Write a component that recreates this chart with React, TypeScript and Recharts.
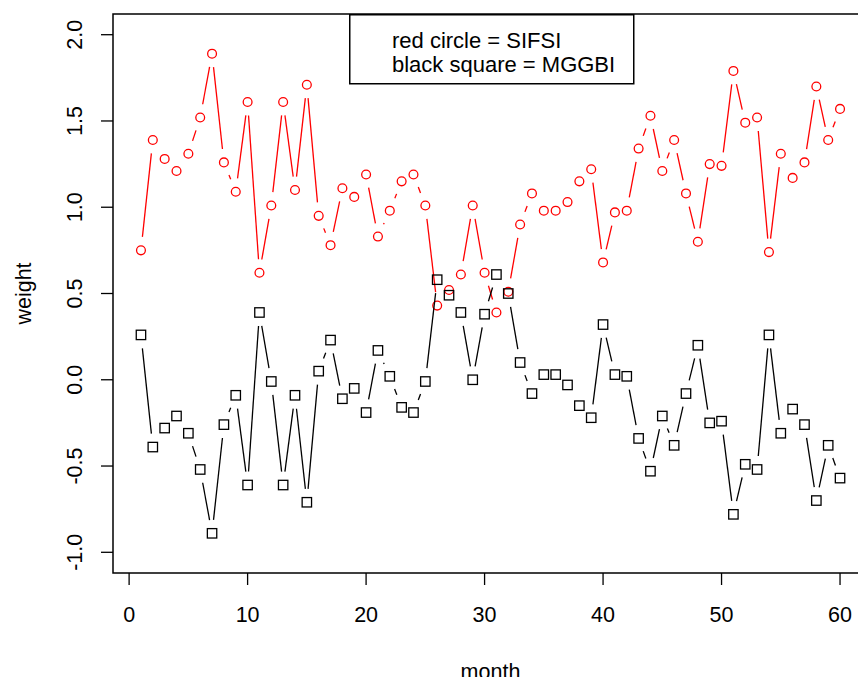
import React from 'react';
import { LineChart, Line, XAxis, YAxis, ReferenceArea, Legend } from 'recharts';

const months = [1,2,3,4,5,6,7,8,9,10,11,12,13,14,15,16,17,18,19,20,21,22,23,24,25,26,27,28,29,30,31,32,33,34,35,36,37,38,39,40,41,42,43,44,45,46,47,48,49,50,51,52,53,54,55,56,57,58,59,60];

const sifsi = [0.75,1.39,1.28,1.21,1.31,1.52,1.89,1.26,1.09,1.61,0.62,1.01,1.61,1.10,1.71,0.95,0.78,1.11,1.06,1.19,0.83,0.98,1.15,1.19,1.01,0.43,0.52,0.61,1.01,0.62,0.39,0.51,0.90,1.08,0.98,0.98,1.03,1.15,1.22,0.68,0.97,0.98,1.34,1.53,1.21,1.39,1.08,0.80,1.25,1.24,1.79,1.49,1.52,0.74,1.31,1.17,1.26,1.70,1.39,1.57];

const mggbi = [0.26,-0.39,-0.28,-0.21,-0.31,-0.52,-0.89,-0.26,-0.09,-0.61,0.39,-0.01,-0.61,-0.09,-0.71,0.05,0.23,-0.11,-0.05,-0.19,0.17,0.02,-0.16,-0.19,-0.01,0.58,0.49,0.39,0.00,0.38,0.61,0.50,0.10,-0.08,0.03,0.03,-0.03,-0.15,-0.22,0.32,0.03,0.02,-0.34,-0.53,-0.21,-0.38,-0.08,0.20,-0.25,-0.24,-0.78,-0.49,-0.52,0.26,-0.31,-0.17,-0.26,-0.70,-0.38,-0.57];

const xTicks = [0, 10, 20, 30, 40, 50, 60];
const yTicks = [-1, -0.5, 0, 0.5, 1, 1.5, 2];
const legendLines = ['red circle = SIFSI', 'black square = MGGBI'];

const data = months.map((m, i) => ({ month: m, sifsi: sifsi[i], mggbi: mggbi[i] }));

const FONT = '"Liberation Sans", Arial, sans-serif';
const GAP = 13.5;
const cache: Record<string, { x: number; y: number }[]> = {};

function makeDot(kind: 'circle' | 'square', color: string) {
  return (props: any) => {
    const { cx, cy, index, points } = props;
    const arr = (cache[kind] = cache[kind] || []);
    arr[index] = { x: cx, y: cy };
    const prev = points && points[index - 1] ? points[index - 1] : index > 0 ? arr[index - 1] : null;
    let seg: React.ReactNode = null;
    if (prev && prev.x != null && prev.y != null) {
      const dx = cx - prev.x;
      const dy = cy - prev.y;
      const d = Math.hypot(dx, dy);
      if (d > 2 * GAP) {
        const ux = dx / d;
        const uy = dy / d;
        seg = (
          <line
            x1={prev.x + ux * GAP}
            y1={prev.y + uy * GAP}
            x2={cx - ux * GAP}
            y2={cy - uy * GAP}
            stroke={color}
            strokeWidth={1.3}
          />
        );
      }
    }
    const marker =
      kind === 'circle' ? (
        <circle cx={cx} cy={cy} r={4.4} fill="none" stroke={color} strokeWidth={1.3} />
      ) : (
        <rect x={cx - 4.7} y={cy - 4.7} width={9.4} height={9.4} fill="none" stroke={color} strokeWidth={1.3} />
      );
    return (
      <g key={`${kind}-${index}`}>
        {seg}
        {marker}
      </g>
    );
  };
}

const YTick = (props: any) => {
  const { x, y, payload } = props;
  return (
    <text
      transform={`translate(${x},${y}) rotate(-90)`}
      textAnchor="middle"
      fontSize={21.5}
      fontFamily={FONT}
      fill="#000"
    >
      {Number(payload.value).toFixed(1)}
    </text>
  );
};

const XLabel = (props: any) => {
  const vb = props.viewBox || {};
  return (
    <text x={vb.x + vb.width / 2} y={vb.y + 106} textAnchor="middle" fontSize={21.5} fontFamily={FONT} fill="#000">
      month
    </text>
  );
};

const YLabel = (props: any) => {
  const vb = props.viewBox || {};
  const cy = vb.y + vb.height / 2;
  return (
    <text transform={`translate(31,${cy}) rotate(-90)`} textAnchor="middle" fontSize={21.5} fontFamily={FONT} fill="#000">
      weight
    </text>
  );
};

const LegendBox = () => (
  <svg width={286} height={71} style={{ display: 'block' }}>
    <rect x={0.75} y={0.75} width={284} height={69} fill="#fff" stroke="#000" strokeWidth={1.5} />
    {legendLines.map((t, i) => (
      <text key={t} x={43} y={34.3 + i * 23.4} fontSize={22} fontFamily={FONT} fill="#000">
        {t}
      </text>
    ))}
  </svg>
);

export default function App() {
  return (
    <>
      <style>{'html,body{margin:0;padding:0;overflow:hidden;}'}</style>
      <div style={{ width: 858, height: 677, overflow: 'hidden', position: 'relative' }}>
        <LineChart width={880} height={700} data={data} margin={{ top: 14, right: 12, bottom: 0, left: 0 }}>
          <XAxis
            dataKey="month"
            type="number"
            domain={[-1.36, 62.36]}
            ticks={xTicks}
            allowDataOverflow
            axisLine={false}
            tickLine={{ stroke: '#000', strokeWidth: 1.3 }}
            tickSize={12}
            tickMargin={22}
            height={127}
            tick={{ fontSize: 21.5, fontFamily: FONT, fill: '#000' }}
            label={<XLabel />}
          />
          <YAxis
            type="number"
            domain={[-1.12, 2.12]}
            ticks={yTicks}
            allowDataOverflow
            axisLine={false}
            tickLine={{ stroke: '#000', strokeWidth: 1.3 }}
            tickSize={12}
            tickMargin={19.3}
            width={113}
            tick={<YTick />}
            label={<YLabel />}
          />
          <ReferenceArea
            x1={-1.36}
            x2={62.36}
            y1={-1.12}
            y2={2.12}
            fill="none"
            stroke="#000"
            strokeWidth={1.5}
            fillOpacity={0}
            ifOverflow="visible"
          />
          <Line
            dataKey="sifsi"
            stroke="none"
            strokeWidth={0}
            dot={makeDot('circle', '#ff0000')}
            activeDot={false}
            isAnimationActive={false}
            legendType="none"
          />
          <Line
            dataKey="mggbi"
            stroke="none"
            strokeWidth={0}
            dot={makeDot('square', '#000000')}
            activeDot={false}
            isAnimationActive={false}
            legendType="none"
          />
          <Legend
            layout="horizontal"
            verticalAlign="middle"
            align="center"
            content={() => <LegendBox />}
            wrapperStyle={{ left: 349, top: 14, width: 286, height: 71, right: 'auto', bottom: 'auto' }}
          />
        </LineChart>
      </div>
    </>
  );
}
